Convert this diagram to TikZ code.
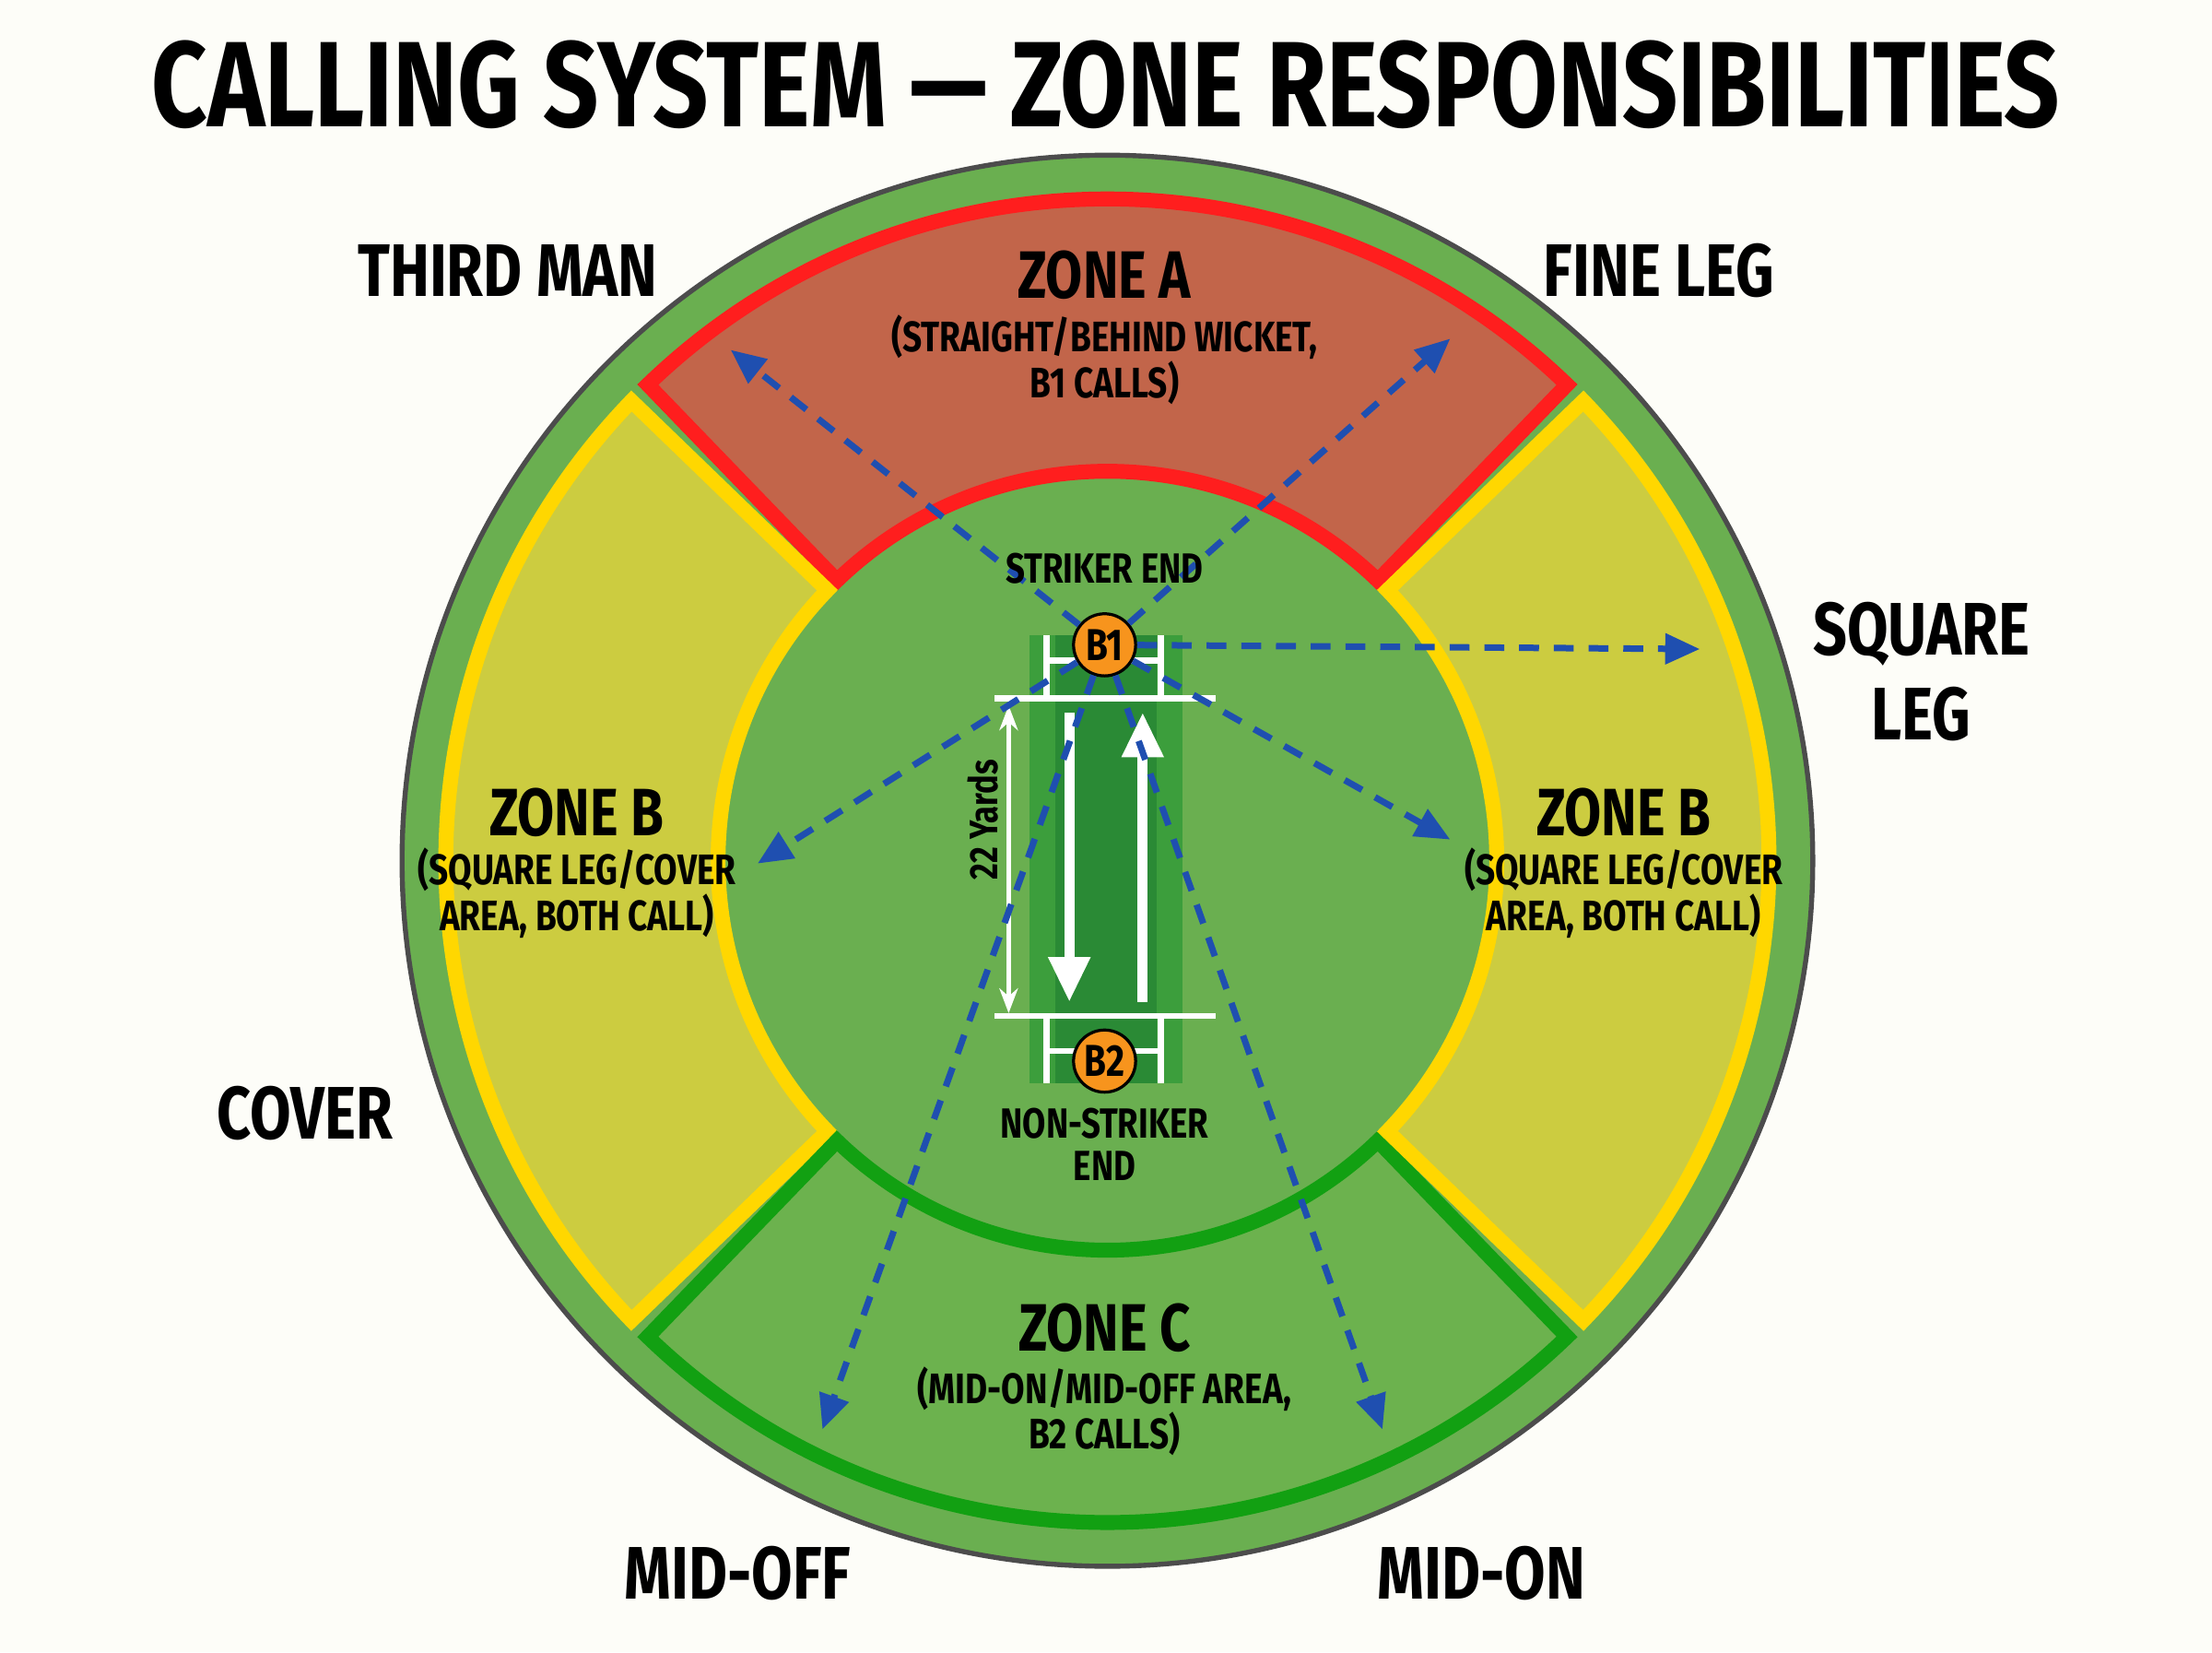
\documentclass[tikz,border=0pt]{standalone}
\usepackage{fontspec}
\setmainfont{Fira Sans}[FakeStretch=0.8]
\usetikzlibrary{arrows.meta}
\definecolor{bg}{HTML}{FDFDF8}
\definecolor{field}{HTML}{6AAF50}
\definecolor{zA}{HTML}{C2654A}
\definecolor{zArim}{HTML}{FF1E1E}
\definecolor{zB}{HTML}{CCCC40}
\definecolor{zBrim}{HTML}{FFD700}
\definecolor{zC}{HTML}{6CB24E}
\definecolor{zCrim}{HTML}{12A012}
\definecolor{pitchA}{HTML}{3C9E3C}
\definecolor{pitchB}{HTML}{2A8A35}
\definecolor{orng}{HTML}{F7941D}
\definecolor{blu}{HTML}{1F4FB0}
\begin{document}
\begin{tikzpicture}[x=0.01cm,y=0.01cm,
  lbl/.style={font=\bfseries\fontsize{15}{17}\selectfont,align=center},
  zt/.style={font=\bfseries\fontsize{13.5}{15}\selectfont},
  zs/.style={font=\bfseries\fontsize{8.6}{9.2}\selectfont,align=center},
  sm/.style={font=\bfseries\fontsize{8.5}{8.5}\selectfont,align=center},
  bat/.style={circle,fill=orng,draw=black,line width=0.6pt,minimum size=0.44cm,inner sep=0pt,font=\bfseries\fontsize{9}{10}\selectfont},
  call/.style={blu,line width=1.3pt,dash pattern=on 4pt off 3pt,-{Triangle[length=7pt,width=6pt]}},
  wl/.style={white,line width=1.2pt}]
\fill[bg] (0,0) rectangle (1568,1171);
\useasboundingbox (0,0) rectangle (1568,1171);
\node[font=\bfseries\fontsize{24.5}{28}\selectfont] (title) at (784,1111) {CALLING SYSTEM — ZONE RESPONSIBILITIES};
\begin{scope}[shift={(785,561)}]
  \fill[field] (0,0) circle (500);
  \draw[black!70,line width=1pt] (0,0) circle (500);
  \foreach \a/\f/\r in {46/zA/zArim, 136/zB/zBrim, 226/zC/zCrim, -44/zB/zBrim}{
    \draw[fill=\f,draw=\r,line width=3pt,line join=miter]
      (\a:469) arc[start angle=\a,end angle=\a+88,radius=469] -- (\a+88:276)
      arc[start angle=\a+88,end angle=\a,radius=276] -- cycle;
  }
  \fill[field] (0,0) circle (258);
\end{scope}
% pitch
\fill[pitchA] (730,403) rectangle (838,721);
\fill[pitchB] (748,403) rectangle (820,721);
\draw[wl] (705,676) -- (862,676);
\draw[wl] (705,451) -- (862,451);
\draw[wl] (742,703) -- (823,703);
\draw[wl] (742,426) -- (823,426);
\draw[wl] (742,676) -- (742,721); \draw[wl] (823,676) -- (823,721);
\draw[wl] (742,451) -- (742,403); \draw[wl] (823,451) -- (823,403);
\draw[white,line width=2pt,-{Triangle[length=9pt,width=8pt]}] (758,666) -- (758,461);
\draw[white,line width=2pt,-{Triangle[length=9pt,width=8pt]}] (810,461) -- (810,666);
\draw[white,line width=0.8pt,{Stealth[length=5pt]}-{Stealth[length=5pt]}] (715,671) -- (715,453);
\node[rotate=90,font=\bfseries\fontsize{8}{9}\selectfont] (yd) at (697,590) {22 Yards};
\node[bat] (b1) at (783,714) {B1};
\node[bat] (b2) at (783,419) {B2};
\coordinate (tm) at (518,923); \coordinate (fl) at (1028,931);
\coordinate (sq) at (1205,711); \coordinate (rb) at (1028,576);
\coordinate (lb) at (537,559); \coordinate (mo) at (583,158);
\coordinate (mn) at (980,158);
\foreach \t in {tm,fl,sq,rb,lb,mo,mn} \draw[call] (b1) -- (\t);
% texts
\node[lbl] (l1) at (360,979) {THIRD MAN};
\node[lbl] (l2) at (1176,979) {FINE LEG};
\node[lbl] (l3) at (1362,695) {SQUARE\\LEG};
\node[lbl] (l4) at (216,382) {COVER};
\node[lbl] (l5) at (523,56) {MID-OFF};
\node[lbl] (l6) at (1050,56) {MID-ON};
\node[zt] (za) at (783,976) {ZONE A};
\node[zs] (zas) at (783,916) {(STRAIGHT/BEHIND WICKET,\\B1 CALLS)};
\node[zt] (zb1) at (409,595) {ZONE B};
\node[zs] (zb1s) at (409,538) {(SQUARE LEG/COVER\\AREA, BOTH CALL)};
\node[zt] (zb2) at (1151,595) {ZONE B};
\node[zs] (zb2s) at (1151,538) {(SQUARE LEG/COVER\\AREA, BOTH CALL)};
\node[zt] (zc) at (783,230) {ZONE C};
\node[zs] (zcs) at (783,171) {(MID-ON/MID-OFF AREA,\\B2 CALLS)};
\node[sm] (se) at (783,768) {STRIKER END};
\node[sm] (ne) at (783,360) {NON-STRIKER\\END};
\end{tikzpicture}
\end{document}
